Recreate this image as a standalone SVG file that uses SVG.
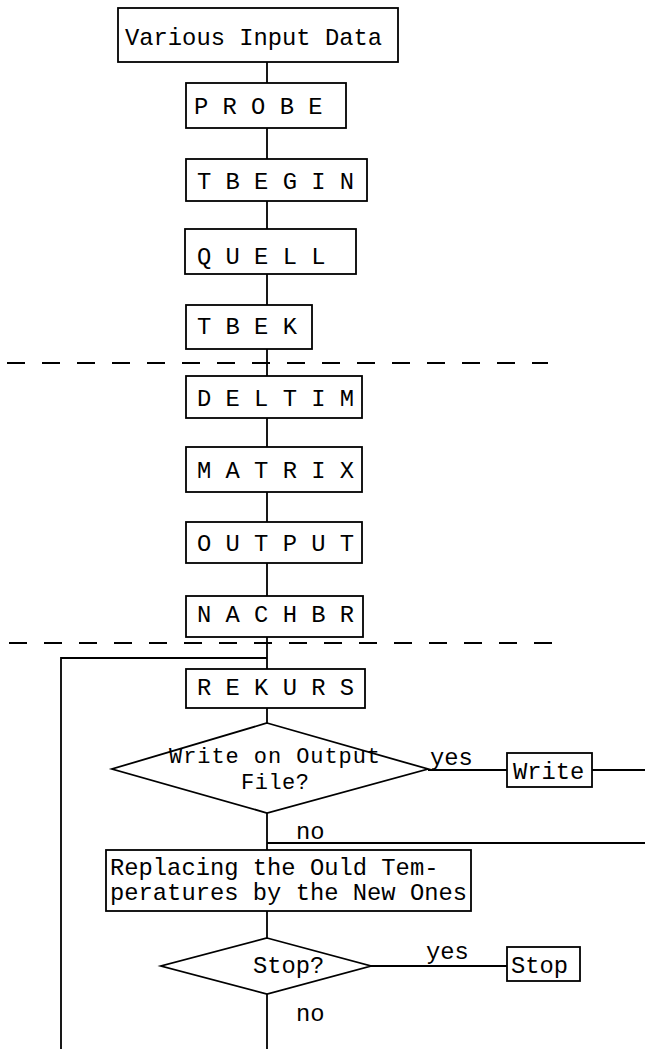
<svg xmlns="http://www.w3.org/2000/svg" width="645" height="1049" viewBox="0 0 645 1049">
<style>
  .box { fill: #fff; stroke: #000; stroke-width: 1.8; }
  .t { font-family: "Liberation Mono", "Courier New", monospace; font-size: 23.8px; fill: #000; }
  .s { font-family: "Liberation Mono", "Courier New", monospace; font-size: 22px; fill: #000; }
  .ln { fill: none; stroke: #000; stroke-width: 1.8; }
  .dash { fill: none; stroke: #000; stroke-width: 2; stroke-dasharray: 18 17; }
</style>
<rect width="645" height="1049" fill="#fff"/>
<g id="connectors">
  <path class="ln" d="M267,62 V83 M267,128 V159 M267,201 V229 M267,274 V305 M267,349 V376 M267,418 V447 M267,492 V522 M267,563 V596 M267,637 V669 M267,708 V723 M267,813 V850 M267,911 V938 M267,994 V1049"/>
  <path class="ln" d="M267,658 H61 V1049"/>
  <path class="ln" d="M428,770 H507 M592,770 H645"/>
  <path class="ln" d="M267,843 H645"/>
  <path class="ln" d="M371,966 H507"/>
  <path class="dash" d="M7,363 H548"/>
  <path class="dash" d="M9,643 H560"/>
  <text class="t" x="430" y="765">yes</text>
  <text class="t" x="296" y="839">no</text>
  <text class="t" x="426" y="959">yes</text>
  <text class="t" x="296" y="1021">no</text>
</g>
<g id="n-input"><rect class="box" x="118" y="8" width="280" height="54"/><text class="t" x="125" y="45">Various Input Data</text></g>
<g id="n-probe"><rect class="box" x="186" y="83" width="160" height="45"/><text class="t" x="194" y="114">P R O B E</text></g>
<g id="n-tbegin"><rect class="box" x="186" y="159" width="181" height="42"/><text class="t" x="197" y="189">T B E G I N</text></g>
<g id="n-quell"><rect class="box" x="185" y="229" width="171" height="45"/><text class="t" x="197" y="264">Q U E L L</text></g>
<g id="n-tbek"><rect class="box" x="186" y="305" width="126" height="44"/><text class="t" x="197" y="334">T B E K</text></g>
<g id="n-deltim"><rect class="box" x="186" y="376" width="176" height="42"/><text class="t" x="197" y="406">D E L T I M</text></g>
<g id="n-matrix"><rect class="box" x="186" y="447" width="176" height="45"/><text class="t" x="197" y="478">M A T R I X</text></g>
<g id="n-output"><rect class="box" x="186" y="522" width="176" height="41"/><text class="t" x="197" y="551">O U T P U T</text></g>
<g id="n-nachbr"><rect class="box" x="186" y="596" width="177" height="41"/><text class="t" x="197" y="622">N A C H B R</text></g>
<g id="n-rekurs"><rect class="box" x="186" y="669" width="179" height="39"/><text class="t" x="197" y="695">R E K U R S</text></g>
<g id="n-writeq"><polygon class="box" points="267,723 428,769 267,813 112,769"/><text class="s" x="169" y="763" textLength="211">Write on Output</text><text class="s" x="241" y="789" textLength="68">File?</text></g>
<g id="n-write"><rect class="box" x="507" y="753" width="85" height="34"/><text class="t" x="513" y="779">Write</text></g>
<g id="n-replace"><rect class="box" x="106" y="850" width="365" height="61"/><text class="t" x="110" y="875">Replacing the Ould Tem-</text><text class="t" x="110" y="900">peratures by the New Ones</text></g>
<g id="n-stopq"><polygon class="box" points="267,938 371,966 267,994 161,966"/><text class="t" x="253" y="973">Stop?</text></g>
<g id="n-stop"><rect class="box" x="507" y="947" width="73" height="34"/><text class="t" x="511" y="973">Stop</text></g>
</svg>
